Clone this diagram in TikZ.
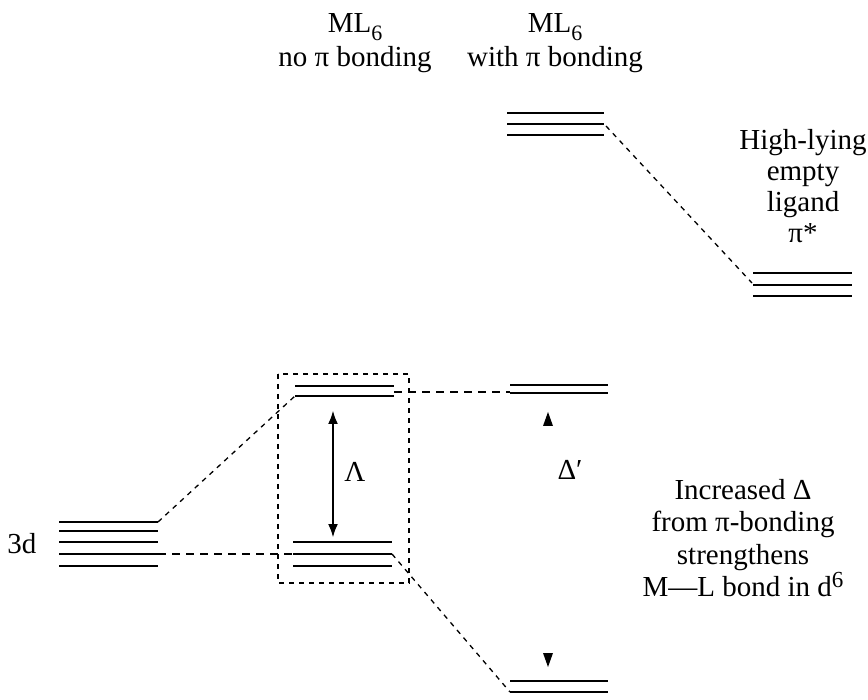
\documentclass[tikz,border=0pt]{standalone}
\usepackage{fontspec}
\setmainfont{Liberation Serif}
\usetikzlibrary{arrows.meta}
\newcommand{\lowsix}{\raisebox{-8pt}{\fontsize{22}{22}\selectfont 6}}
\newcommand{\highsix}{\raisebox{9pt}{\fontsize{23}{23}\selectfont 6}}
\begin{document}
\begin{tikzpicture}[x=1pt,y=-1pt,
  level/.style={line width=1.4pt},
  thicklevel/.style={line width=2.6pt},
  corr/.style={line width=1.3pt,dash pattern=on 5pt off 5pt},
  thickcorr/.style={line width=2.2pt,dash pattern=on 8pt off 6pt},
  lbl/.style={inner sep=0pt,anchor=base,font=\fontsize{29}{31}\selectfont},
  tip/.style={fill=black}]
\useasboundingbox (0,0) rectangle (868,700);

% column titles
\node[lbl] (t1a) at (355,33) {ML\lowsix};
\node[lbl] (t1b) at (355,67) {no π bonding};
\node[lbl] (t2a) at (555,33) {ML\lowsix};
\node[lbl] (t2b) at (555,67) {with π bonding};

% free metal 3d set
\foreach \y/\s in {522/level,531/thicklevel,542/level,554/level,566/level}
  \draw[\s] (59,\y) -- (158,\y);
\coordinate (d3top) at (158,522);
\coordinate (d3mid) at (158,554);
\node[lbl] (d3lbl) at (22,553) {3d};

% no pi bonding: e_g and t_2g
\draw[level] (295,386) -- (394,386);
\draw[thicklevel] (295,396) -- (394,396);
\coordinate (egL) at (295,396);
\coordinate (egR) at (394,392);
\foreach \y in {542,554,566}
  \draw[level] (293,\y) -- (392,\y);
\coordinate (tL) at (293,554);
\coordinate (tR) at (392,554);
\draw[corr] (278,374) rectangle (409,583);
\coordinate (lamTop) at (333,410);
\coordinate (lamBot) at (333,538);
\draw[line width=2.8pt,{Latex[length=14pt,width=10pt]}-{Latex[length=14pt,width=10pt]}] (lamTop) -- (lamBot);
\node[lbl,anchor=center] (lam) at (355,472) {Λ};

% with pi bonding
\draw[level] (510,385) -- (608,385);
\draw[level] (510,393) -- (608,393);
\coordinate (egpL) at (510,392);
\draw[level] (510,681) -- (608,681);
\draw[level] (510,692) -- (608,692);
\coordinate (tpL) at (510,692);
\foreach \y in {113,124,135}
  \draw[level] (507,\y) -- (604,\y);
\coordinate (upR) at (606,126);

% ligand pi*
\draw[thicklevel] (753,273) -- (852,273);
\draw[level] (753,285) -- (852,285);
\draw[level] (753,296) -- (852,296);
\coordinate (pisL) at (752,283);

% correlation lines
\draw[corr] (d3top) -- (egL);
\draw[thickcorr] (d3mid) -- (tL);
\draw[thickcorr] (egR) -- (egpL);
\draw[corr] (tR) -- (tpL);
\draw[corr] (upR) -- (pisL);

% Delta' marks
\coordinate (dupTip) at (548,412);
\coordinate (ddnTip) at (548,667);
\fill[tip] (dupTip) -- ++(5,14) -- ++(-10,0) -- cycle;
\fill[tip] (ddnTip) -- ++(5,-14) -- ++(-10,0) -- cycle;
\node[lbl,anchor=center] (dp) at (570,470) {Δ′};

% side notes
\node[lbl] (h1) at (803,150) {High-lying};
\node[lbl] (h2) at (803,181) {empty};
\node[lbl] (h3) at (803,212) {ligand};
\node[lbl] (h4) at (803,243) {π*};

\node[lbl] (n1) at (743,500) {Increased Δ};
\node[lbl] (n2) at (743,532) {from π-bonding};
\node[lbl] (n3) at (743,564) {strengthens};
\node[lbl] (n4) at (743,596) {M—L bond in d\highsix};
\end{tikzpicture}
\end{document}
